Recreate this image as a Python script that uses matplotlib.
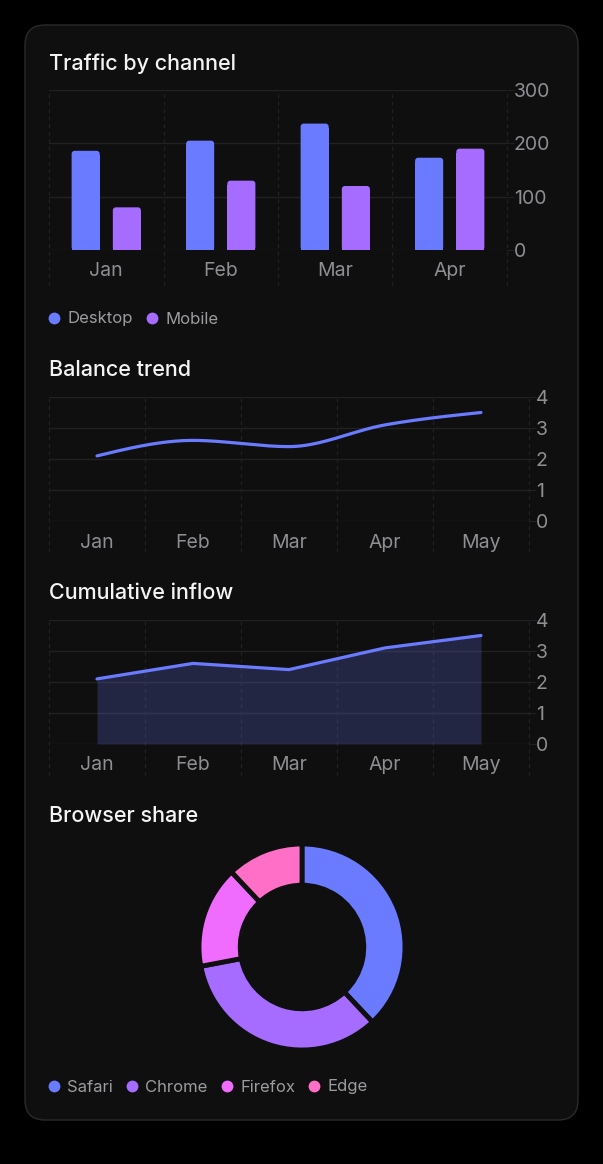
import numpy as np
import matplotlib
matplotlib.use('Agg')
import matplotlib.pyplot as plt
from matplotlib.patches import FancyBboxPatch
from matplotlib.lines import Line2D

plt.rcParams['font.family'] = ['Inter', 'DejaVu Sans']

# ---- data ----
bar_months = ['Jan', 'Feb', 'Mar', 'Apr']
desktop = [186, 205, 237, 173]
mobile = [80, 130, 120, 190]

line_months = ['Jan', 'Feb', 'Mar', 'Apr', 'May']
balance = [2.1, 2.6, 2.4, 3.1, 3.5]
inflow = [2.1, 2.6, 2.4, 3.1, 3.5]

browsers = ['Safari', 'Chrome', 'Firefox', 'Edge']
browser_share = [38, 34, 16, 12]

# ---- style ----
BLUE = '#6b7bff'
PURPLE = '#a66bff'
MAGENTA = '#f06cff'
PINK = '#ff6ec7'
CARD = '#0f0f0f'
GRID = '#212121'
TICK = '#8e8e93'
LEGEND_TXT = '#9c9ca0'
TITLE = '#f4f4f4'

W, H = 603, 1164
fig = plt.figure(figsize=(W / 100, H / 100), dpi=100, facecolor='black')

bg = fig.add_axes([0, 0, 1, 1])
bg.set_xlim(0, W); bg.set_ylim(H, 0); bg.axis('off')
bg.add_patch(FancyBboxPatch((25, 25), 553, 1095, boxstyle='round,pad=0,rounding_size=20',
                            fc=CARD, ec='#2a2a2a', lw=1))


def px_ax(x0, y0, x1, y1):
    return fig.add_axes([x0 / W, 1 - y1 / H, (x1 - x0) / W, (y1 - y0) / H])


def style_axes(ax, n, ymax, yticks, ext):
    ax.set_facecolor('none')
    for s in ax.spines.values():
        s.set_visible(False)
    ax.set_xlim(-0.5, n - 0.5)
    ax.set_ylim(0, ymax)
    for v in yticks:
        ax.axhline(v, color=GRID, lw=1, zorder=0)
    for x in np.arange(-0.5, n, 1.0):
        ax.axvline(x, ymin=-ext, ymax=1, color=GRID, lw=0.9, ls=(0, (3, 3)),
                   clip_on=False, zorder=0)
    ax.yaxis.tick_right()
    ax.set_yticks(yticks)
    ax.tick_params(axis='y', length=5, width=0.8, color=GRID, pad=0,
                   labelsize=14, labelcolor=TICK)
    ax.tick_params(axis='x', length=0, pad=9, labelsize=14, labelcolor=TICK)


def title(y, text):
    fig.text(49 / W, 1 - y / H, text, color=TITLE, fontsize=15.5, fontweight='medium',
             ha='left', va='center')


def legend(y, labels, colors):
    handles = [Line2D([], [], ls='none', marker='o', markersize=8.5, color=c,
                      markeredgewidth=0) for c in colors]
    fig.legend(handles, labels, loc='center left', bbox_to_anchor=(48 / W, 1 - y / H),
               ncol=len(labels), frameon=False, fontsize=12, labelcolor=LEGEND_TXT,
               handlelength=0.7, handletextpad=0.45, columnspacing=0.8,
               borderpad=0, borderaxespad=0)


def monotone(xs, ys, n=40):
    xs = np.asarray(xs, float); ys = np.asarray(ys, float)
    h = np.diff(xs); d = np.diff(ys) / h
    m = np.zeros_like(ys)
    for k in range(1, len(ys) - 1):
        s0, s1 = d[k - 1], d[k]
        p = (s0 * h[k] + s1 * h[k - 1]) / (h[k - 1] + h[k])
        m[k] = (np.sign(s0) + np.sign(s1)) * min(abs(s0), abs(s1), 0.5 * abs(p))
    m[0] = (3 * d[0] - m[1]) / 2
    m[-1] = (3 * d[-1] - m[-2]) / 2
    px, py = [], []
    for k in range(len(xs) - 1):
        t = np.linspace(0, 1, n)
        h00 = 2 * t**3 - 3 * t**2 + 1; h10 = t**3 - 2 * t**2 + t
        h01 = -2 * t**3 + 3 * t**2; h11 = t**3 - t**2
        px.append(xs[k] + t * h[k])
        py.append(h00 * ys[k] + h10 * h[k] * m[k] + h01 * ys[k + 1] + h11 * h[k] * m[k + 1])
    return np.concatenate(px), np.concatenate(py)


# ---- 1. Traffic by channel ----
title(64, 'Traffic by channel')
ax1 = px_ax(49, 90, 507, 250)
style_axes(ax1, len(bar_months), 300, [0, 100, 200, 300], 35 / 160)
x = np.arange(len(bar_months))
# data units per pixel, for round top corners
ux = 4 / 458
uy = 300 / 160
for vals, off, col in [(desktop, -0.18, BLUE), (mobile, 0.18, PURPLE)]:
    bars = ax1.bar(x + off, vals, width=0.245, color=col, zorder=2)
    for b in bars:
        b.set_visible(False)
        ax1.add_patch(FancyBboxPatch((b.get_x(), 0), b.get_width(), b.get_height(),
                                     boxstyle=f'round,pad=0,rounding_size={3 * ux}',
                                     mutation_aspect=uy / ux, fc=col, ec='none', zorder=2))
        ax1.add_patch(plt.Rectangle((b.get_x(), 0), b.get_width(), b.get_height() - 4 * uy,
                                    fc=col, ec='none', zorder=2))
ax1.set_xticks(x, bar_months)
legend(319, ['Desktop', 'Mobile'], [BLUE, PURPLE])

# ---- 2. Balance trend ----
title(370, 'Balance trend')
ax2 = px_ax(49, 397, 529, 521)
style_axes(ax2, len(line_months), 4, [0, 1, 2, 3, 4], 31 / 124)
xl = np.arange(len(line_months))
sx, sy = monotone(xl, balance)
ax2.plot(sx, sy, color=BLUE, lw=2.3, solid_capstyle='round', zorder=3)
ax2.set_xticks(xl, line_months)

# ---- 3. Cumulative inflow ----
title(593, 'Cumulative inflow')
ax3 = px_ax(49, 620, 529, 744)
style_axes(ax3, len(line_months), 4, [0, 1, 2, 3, 4], 31 / 124)
ax3.fill_between(xl, inflow, 0, color=BLUE, alpha=0.22, lw=0, zorder=1)
ax3.plot(xl, inflow, color=BLUE, lw=2.3, solid_capstyle='round', zorder=3)
ax3.set_xticks(xl, line_months)

# ---- 4. Browser share ----
title(816, 'Browser share')
R = 103
ax4 = px_ax(302 - 120, 947 - 120, 302 + 120, 947 + 120)
ax4.pie(browser_share, colors=[BLUE, PURPLE, MAGENTA, PINK], startangle=90,
        counterclock=False, radius=1, wedgeprops=dict(width=0.4, edgecolor=CARD, linewidth=3.5))
ax4.set_xlim(-120 / R, 120 / R); ax4.set_ylim(-120 / R, 120 / R)
ax4.set_aspect('equal'); ax4.axis('off')
legend(1087, browsers, [BLUE, PURPLE, MAGENTA, PINK])

fig.savefig('out.png', dpi=100, facecolor='black')
